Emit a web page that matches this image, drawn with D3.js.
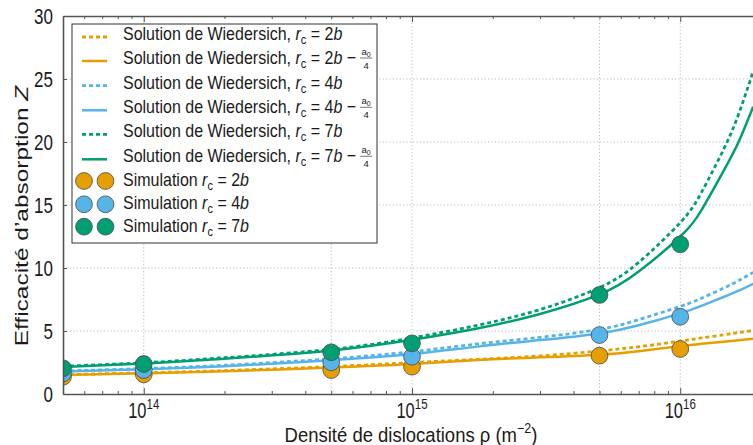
<!DOCTYPE html>
<html><head><meta charset="utf-8">
<script src="https://cdn.jsdelivr.net/npm/d3@7"></script>
<style>
body{margin:0;background:#fff}
svg{display:block}
text{font-family:"Liberation Sans",Arial,Helvetica,sans-serif;fill:#1a1a1a}
</style>
</head><body><svg id="c" width="753" height="445"></svg>
<script>
// ---------- data ----------
const curveRho = [5e13,1e14,2e14,5e14,1e15,1.75e15,3e15,5e15,7e15,1e16,1.2e16,1.45e16,1.65e16,1.87e16];
const wied2b      = [1.53,1.68,1.86,2.18,2.49,2.75,3.02,3.42,3.75,4.20,4.45,4.70,4.88,5.03];
const wied2bShift = [1.50,1.64,1.80,2.10,2.38,2.70,2.91,3.12,3.40,3.80,3.98,4.15,4.27,4.38];
const wied4b      = [1.82,2.02,2.28,2.80,3.36,3.97,4.50,5.13,5.90,6.95,7.60,8.40,9.00,9.65];
const wied4bShift = [1.78,1.96,2.20,2.68,3.17,3.76,4.28,4.81,5.45,6.40,7.00,7.70,8.20,8.75];
const wied7b      = [2.20,2.48,2.88,3.55,4.45,5.45,6.70,8.45,10.45,13.6,16.0,19.4,22.2,25.6];
const wied7bShift = [2.15,2.42,2.80,3.45,4.30,5.20,6.35,7.90,9.72,12.5,14.6,17.7,20.0,22.8];

const simRho = [5e13,1e14,5e14,1e15,5e15,1e16];
const sim2b = [1.37,1.56,1.90,2.17,3.04,3.57];
const sim4b = [1.64,1.90,2.52,2.96,4.68,6.13];
const sim7b = [2.04,2.38,3.31,4.02,7.86,11.88];

const xMajorTicks = [1e14,1e15,1e16];
const xMajorExp = ["14","15","16"];
const xGrid = [1e14,5e14,1e15,5e15,1e16];
const yTicks = [0,5,10,15,20,25,30];

const colOrange = "#E69F00", colBlue = "#56B4E9", colGreen = "#009E73";

// ---------- layout ----------
const svg = d3.select("#c");
const L = 63, R = 761, T = 16, B = 394;
const x = d3.scaleLog().domain([5e13, 2e16]).range([L, R]);
const y = d3.scaleLinear().domain([0, 30]).range([B, T]);

svg.append("rect").attr("width",753).attr("height",445).attr("fill","#fff");

svg.append("defs").append("clipPath").attr("id","clip")
  .append("rect").attr("x",L).attr("y",T).attr("width",R-L).attr("height",B-T);

// grid
const grid = svg.append("g").attr("stroke","#b4b4b4").attr("stroke-width",0.9).attr("stroke-dasharray","1.2,2.2");
grid.selectAll("line.gx").data(xGrid).join("line")
  .attr("x1",d=>x(d)).attr("x2",d=>x(d)).attr("y1",T).attr("y2",B);
grid.selectAll("line.gy").data(yTicks.filter(v=>v>0&&v<30)).join("line")
  .attr("x1",L).attr("x2",R).attr("y1",d=>y(d)).attr("y2",d=>y(d));

// curves
const plot = svg.append("g").attr("clip-path","url(#clip)");
const line = d3.line().x(d=>x(d[0])).y(d=>y(d[1])).curve(d3.curveNatural);
const curves = [
  {v:wied2b, c:colOrange, dash:true},
  {v:wied2bShift, c:colOrange, dash:false},
  {v:wied4b, c:colBlue, dash:true},
  {v:wied4bShift, c:colBlue, dash:false},
  {v:wied7b, c:colGreen, dash:true},
  {v:wied7bShift, c:colGreen, dash:false},
];
curves.forEach(cv=>{
  plot.append("path").datum(curveRho.map((r,i)=>[r,cv.v[i]]))
    .attr("d",line).attr("fill","none").attr("stroke",cv.c)
    .attr("stroke-width",cv.dash?2.8:2.5)
    .attr("stroke-dasharray",cv.dash?"4,3":null);
});
// simulation markers
[[sim2b,colOrange],[sim4b,colBlue],[sim7b,colGreen]].forEach(([vals,c])=>{
  plot.selectAll(null).data(simRho.map((r,i)=>[r,vals[i]])).join("circle")
    .attr("cx",d=>x(d[0])).attr("cy",d=>y(d[1])).attr("r",8.4)
    .attr("fill",c).attr("stroke","#4a4a4a").attr("stroke-width",0.8);
});

// axes
const axCol = "#555";
const minor = [];
[13,14,15,16].forEach(e=>{for(let k=2;k<=9;k++){const v=k*Math.pow(10,e); if(v>=5e13&&v<=2e16) minor.push(v);}});
function styleAxis(g){g.selectAll("path,line").attr("stroke",axCol); g.select(".domain").attr("stroke-width",1.6); g.selectAll("text").remove();}
svg.append("g").attr("transform",`translate(0,${B})`)
  .call(d3.axisBottom(x).tickValues(xMajorTicks).tickSizeInner(-6).tickSizeOuter(0).tickFormat(""))
  .call(styleAxis);
svg.append("g").attr("transform",`translate(0,${B})`)
  .call(d3.axisBottom(x).tickValues(minor).tickSizeInner(-3).tickSizeOuter(0).tickFormat(""))
  .call(g=>{g.select(".domain").remove(); g.selectAll("line").attr("stroke",axCol);});
svg.append("g").attr("transform",`translate(0,${T})`)
  .call(d3.axisTop(x).tickValues(xMajorTicks).tickSizeInner(-6).tickSizeOuter(0).tickFormat(""))
  .call(styleAxis);
svg.append("g").attr("transform",`translate(0,${T})`)
  .call(d3.axisTop(x).tickValues(minor).tickSizeInner(-3).tickSizeOuter(0).tickFormat(""))
  .call(g=>{g.select(".domain").remove(); g.selectAll("line").attr("stroke",axCol);});
svg.append("g").attr("transform",`translate(${L},0)`)
  .call(d3.axisLeft(y).tickValues(yTicks).tickSizeInner(-4).tickSizeOuter(0).tickFormat(""))
  .call(styleAxis);

// tick labels
const kTick = 1.3;
yTicks.forEach(v=>{
  svg.append("text").attr("transform",`translate(53,${y(v)+8}) scale(1,${kTick})`)
    .attr("text-anchor","end").attr("font-size",17).text(v);
});
xMajorTicks.forEach((v,i)=>{
  const t = svg.append("text").attr("transform",`translate(${x(v)},${418}) scale(1,${kTick})`)
    .attr("text-anchor","middle").attr("font-size",16.5);
  t.append("tspan").text("10");
  t.append("tspan").attr("font-size",11.5).attr("dy",-7).text(xMajorExp[i]);
});

// axis titles
const xl = svg.append("text").attr("transform",`translate(411,442) scale(1,1.12)`)
  .attr("text-anchor","middle").attr("font-size",18.5);
xl.append("tspan").text("Densité de dislocations ρ (m");
xl.append("tspan").attr("font-size",12.5).attr("dy",-8).text("−2");
xl.append("tspan").attr("dy",8).text(")");

const yl = svg.append("text").attr("transform",`translate(28,216) rotate(-90) scale(1.36,1)`)
  .attr("text-anchor","middle").attr("font-size",18);
yl.append("tspan").text("Efficacité d’absorption ");
yl.append("tspan").attr("font-style","italic").text("Z");

// legend
const leg = svg.append("g");
leg.append("rect").attr("x",72).attr("y",24).attr("width",305).attr("height",219)
  .attr("fill","#fff").attr("stroke","#333").attr("stroke-width",1);
const legRows = [
  {type:"line",c:colOrange,dash:true, val:"2",frac:false},
  {type:"line",c:colOrange,dash:false,val:"2",frac:true},
  {type:"line",c:colBlue,dash:true, val:"4",frac:false},
  {type:"line",c:colBlue,dash:false,val:"4",frac:true},
  {type:"line",c:colGreen,dash:true, val:"7",frac:false},
  {type:"line",c:colGreen,dash:false,val:"7",frac:true},
  {type:"pt",c:colOrange,val:"2"},
  {type:"pt",c:colBlue,val:"4"},
  {type:"pt",c:colGreen,val:"7"},
];
const legBase = [40,64,88.7,113.3,137.3,162.3,186,209.3,231.7];
const kLeg = 1.15, fsLeg = 16;
legRows.forEach((row,i)=>{
  const b = legBase[i];
  if(row.type==="line"){
    leg.append("line").attr("x1",82).attr("x2",107).attr("y1",b-3).attr("y2",b-3)
      .attr("stroke",row.c).attr("stroke-width",row.dash?2.8:2.5)
      .attr("stroke-dasharray",row.dash?"4,3":null);
  } else {
    [84,105.5].forEach(cx=>leg.append("circle").attr("cx",cx).attr("cy",b-5).attr("r",8.4)
      .attr("fill",row.c).attr("stroke","#4a4a4a").attr("stroke-width",0.8));
  }
  const t = leg.append("text").attr("transform",`translate(123,${b}) scale(1,${kLeg})`).attr("font-size",fsLeg);
  t.append("tspan").text(row.type==="line"?"Solution de Wiedersich, ":"Simulation ");
  t.append("tspan").attr("font-style","italic").text("r");
  t.append("tspan").attr("font-size",11).attr("dy",3.5).text("c");
  t.append("tspan").attr("dy",-3.5).text(" = "+row.val);
  t.append("tspan").attr("font-style","italic").text("b");
  if(row.frac){
    t.append("tspan").text(" −");
    const w = t.node().getComputedTextLength();
    const fx = 123 + w + 10;
    const f = leg.append("g");
    const num = f.append("text").attr("x",fx).attr("y",b-9).attr("text-anchor","middle").attr("font-size",9.5);
    num.append("tspan").text("a");
    num.append("tspan").attr("font-size",7).attr("dy",1.5).text("0");
    f.append("line").attr("x1",fx-6).attr("x2",fx+6).attr("y1",b-6).attr("y2",b-6).attr("stroke","#1a1a1a").attr("stroke-width",0.6);
    f.append("text").attr("x",fx).attr("y",b+5).attr("text-anchor","middle").attr("font-size",9.5).text("4");
  }
});
</script></body></html>
